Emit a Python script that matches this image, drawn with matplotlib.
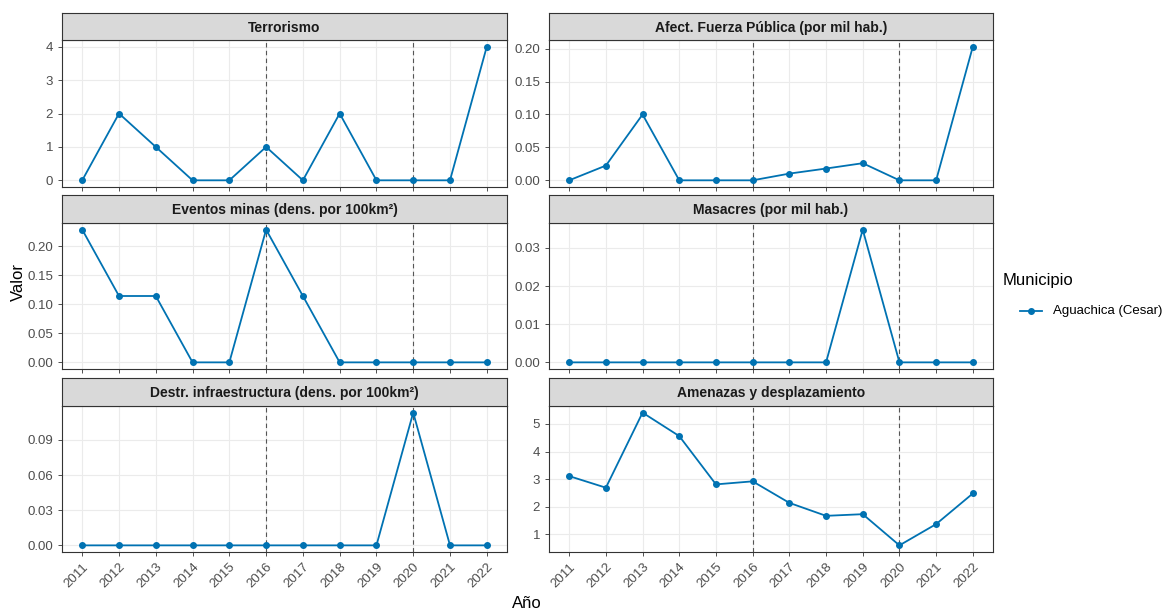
import numpy as np
import matplotlib.pyplot as plt
from matplotlib.lines import Line2D

plt.rcParams['font.family'] = ['Liberation Sans', 'DejaVu Sans']

# ---------------------------------
# Datos
# ---------------------------------
anios = [2011, 2012, 2013, 2014, 2015, 2016, 2017, 2018, 2019, 2020, 2021, 2022]

terrorismo = [0, 2, 1, 0, 0, 1, 0, 2, 0, 0, 0, 4]
afect_fuerza = [0, 0.0224, 0.100, 0, 0, 0, 0.0102, 0.0179, 0.026, 0, 0, 0.203]
eventos_minas = [0.2286, 0.1143, 0.1143, 0, 0, 0.2286, 0.1143, 0, 0, 0, 0, 0]
masacres = [0, 0, 0, 0, 0, 0, 0, 0, 0.0348, 0, 0, 0]
destr_infra = [0, 0, 0, 0, 0, 0, 0, 0, 0, 0.1133, 0, 0]
amenazas = [3.11, 2.69, 5.41, 4.56, 2.81, 2.92, 2.14, 1.67, 1.73, 0.60, 1.37, 2.48]

titulos = ["Terrorismo", "Afect. Fuerza Pública (por mil hab.)",
           "Eventos minas (dens. por 100km²)", "Masacres (por mil hab.)",
           "Destr. infraestructura (dens. por 100km²)", "Amenazas y desplazamiento"]
series = [terrorismo, afect_fuerza, eventos_minas, masacres, destr_infra, amenazas]
yticks = [[0, 1, 2, 3, 4],
          [0, 0.05, 0.10, 0.15, 0.20],
          [0, 0.05, 0.10, 0.15, 0.20],
          [0, 0.01, 0.02, 0.03],
          [0, 0.03, 0.06, 0.09],
          [1, 2, 3, 4, 5]]
yfmt = ["{:.0f}", "{:.2f}", "{:.2f}", "{:.2f}", "{:.2f}", "{:.0f}"]
cortes = [2016, 2020]
municipio = "Aguachica (Cesar)"

# ---------------------------------
# Layout (pixeles)
# ---------------------------------
W, H = 1164, 610
fig = plt.figure(figsize=(W / 100, H / 100), dpi=100)

cols = [(62, 507), (549, 993)]
rows = [(13, 40, 187), (195, 223, 369), (378, 406, 552)]
color = "#0072B2"
borde = "#333333"

def caja(x0, x1, y0, y1):
    return [x0 / W, 1 - y1 / H, (x1 - x0) / W, (y1 - y0) / H]

for i, (titulo, vals) in enumerate(zip(titulos, series)):
    r, c = divmod(i, 2)
    x0, x1 = cols[c]
    s_top, s_bot, p_bot = rows[r]

    ax = fig.add_axes(caja(x0, x1, s_bot, p_bot))
    ax.plot(anios, vals, '-o', color=color, lw=1.3, markersize=4, zorder=3)
    for a in cortes:
        ax.axvline(a, color="#555555", ls=(0, (4, 3)), lw=0.8, zorder=2)

    vmin, vmax = min(vals), max(vals)
    pad = (vmax - vmin) * 0.05
    ax.set_ylim(vmin - pad, vmax + pad)
    ax.set_xlim(2010.45, 2022.55)

    ax.set_yticks(yticks[i])
    ax.set_yticklabels([yfmt[i].format(t) for t in yticks[i]])
    ax.set_xticks(anios)
    if r == 2:
        ax.set_xticklabels([str(a) for a in anios], rotation=45, ha='right',
                           rotation_mode='anchor')
    else:
        ax.set_xticklabels([])

    ax.grid(True, color="#EBEBEB", lw=0.8, zorder=0)
    ax.set_axisbelow(True)
    ax.tick_params(colors=borde, labelcolor="#4D4D4D", labelsize=9.5, length=3,
                   width=0.6)
    for sp in ax.spines.values():
        sp.set_color(borde)
        sp.set_linewidth(0.8)

    # franja del titulo
    st = fig.add_axes(caja(x0, x1, s_top, s_bot))
    st.set_facecolor("#D9D9D9")
    st.set_xticks([])
    st.set_yticks([])
    for sp in st.spines.values():
        sp.set_color(borde)
        sp.set_linewidth(0.8)
    st.text(0.5, 0.45, titulo, ha='center', va='center', fontsize=10,
            fontweight='bold', color="#1A1A1A", transform=st.transAxes)

# etiquetas de ejes
fig.text(527 / W, 1 - 603 / H, "Año", ha='center', va='center', fontsize=12)
fig.text(18 / W, 1 - 282 / H, "Valor", ha='center', va='center', fontsize=12,
         rotation=90)

# leyenda
fig.text(1003 / W, 1 - 281 / H, "Municipio", ha='left', va='center', fontsize=12)
fig.add_artist(Line2D([1020 / W, 1042 / W], [1 - 311 / H, 1 - 311 / H],
                      color=color, lw=1.3))
fig.add_artist(Line2D([1031 / W], [1 - 311 / H], marker='o', color=color,
                      markersize=4))
fig.text(1053 / W, 1 - 311 / H, municipio, ha='left', va='center', fontsize=9.5)

fig.savefig("out.png", dpi=100)
